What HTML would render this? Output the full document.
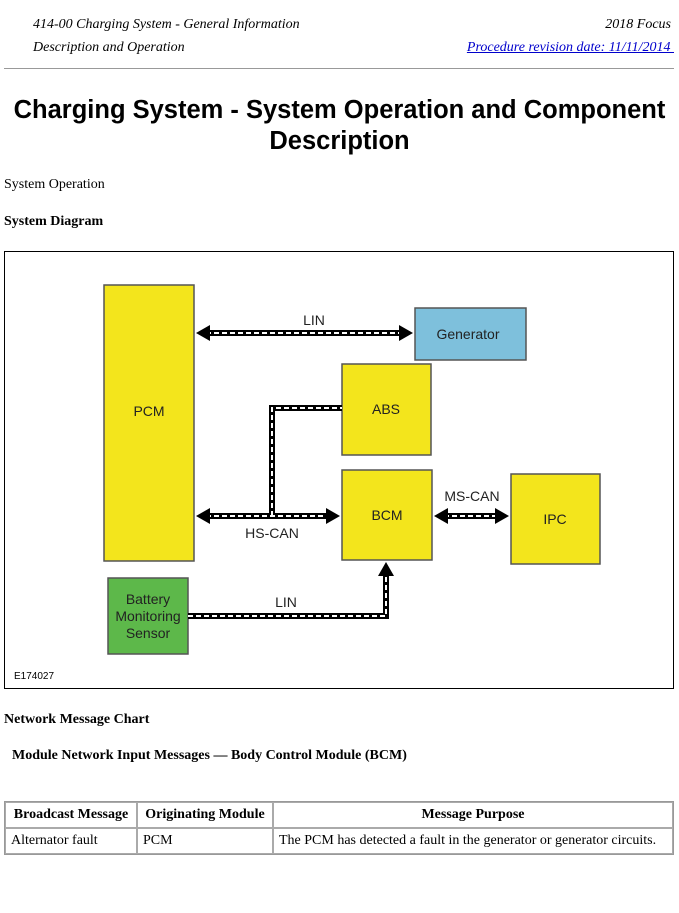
<!DOCTYPE html>
<html><head><style>
body{margin:0;width:679px;height:913px;background:#fff;position:relative;font-family:"Liberation Serif",serif;overflow:hidden}
.a{position:absolute;white-space:nowrap}
.hd{font-style:italic;font-size:14px}
table{position:absolute;left:4px;top:801px;width:670px;border-collapse:separate;border-spacing:0;border:1px solid #999;font-size:14px}
td,th{border:1px solid #aaa;padding:3px 5px;height:18px}
th{font-weight:bold}
</style></head><body>
<div class="a hd" style="left:33px;top:17px">414-00 Charging System - General Information</div>
<div class="a hd" style="left:33px;top:40px">Description and Operation</div>
<div class="a hd" style="right:8px;top:17px">2018 Focus</div>
<div class="a hd" style="right:5px;top:40px;color:#00c;text-decoration:underline">Procedure revision date: 11/11/2014&nbsp;</div>
<div class="a" style="left:4px;top:68px;width:670px;border-top:1px solid #999"></div>
<div class="a" style="left:0;width:679px;top:95px;text-align:center;font-family:'Liberation Sans',sans-serif;font-weight:bold;font-size:25.5px;line-height:31px;white-space:normal">Charging System - System Operation and Component<br>Description</div>
<div class="a" style="left:4px;top:177px;font-size:14px">System Operation</div>
<div class="a" style="left:4px;top:214px;font-size:14px;font-weight:bold">System Diagram</div>
<svg class="a" style="left:0;top:0" width="679" height="913" font-family="Liberation Sans, sans-serif" font-size="14">
<rect x="4.5" y="251.5" width="669" height="437" fill="none" stroke="#000"/>
<g stroke="#555" stroke-width="1.5">
<rect x="104" y="285" width="90" height="276" fill="#f3e51c"/>
<rect x="415" y="308" width="111" height="52" fill="#7ec0dc"/>
<rect x="342" y="364" width="89" height="91" fill="#f3e51c"/>
<rect x="342" y="470" width="90" height="90" fill="#f3e51c"/>
<rect x="511" y="474" width="89" height="90" fill="#f3e51c"/>
<rect x="108" y="578" width="80" height="76" fill="#5db84a"/>
</g>
<g fill="none" stroke="#000" stroke-width="6">
<path d="M206 333H403M206 516H330M272 516V408H342M444 516H499M188 616H386V572"/>
</g>
<g fill="none" stroke="#fff" stroke-width="2" stroke-dasharray="5 3">
<path d="M206 333H403M206 516H330M272 516V408H342M444 516H499M188 616H386V572"/>
</g>
<g fill="#000">
<path d="M196 333l14-8v16zM413 333l-14-8v16zM196 516l14-8v16zM340 516l-14-8v16zM434 516l14-8v16zM509 516l-14-8v16zM386 562l-8 14h16z"/>
</g>
<g fill="#222" text-anchor="middle">
<text x="149" y="416">PCM</text>
<text x="468" y="339">Generator</text>
<text x="386" y="414">ABS</text>
<text x="387" y="520">BCM</text>
<text x="555" y="524">IPC</text>
<text x="314" y="325">LIN</text>
<text x="272" y="538">HS-CAN</text>
<text x="472" y="501">MS-CAN</text>
<text x="286" y="607">LIN</text>
<text x="148" y="604">Battery</text>
<text x="148" y="621">Monitoring</text>
<text x="148" y="638">Sensor</text>
</g>
<text x="14" y="679" font-size="10">E174027</text>
</svg>
<div class="a" style="left:4px;top:712px;font-size:14px;font-weight:bold">Network Message Chart</div>
<div class="a" style="left:12px;top:748px;font-size:14px;font-weight:bold">Module Network Input Messages — Body Control Module (BCM)</div>
<table>
<tr><th style="width:120px">Broadcast Message</th><th style="width:124px">Originating Module</th><th>Message Purpose</th></tr>
<tr><td>Alternator fault</td><td>PCM</td><td>The PCM has detected a fault in the generator or generator circuits.</td></tr>
</table>
</body></html>
